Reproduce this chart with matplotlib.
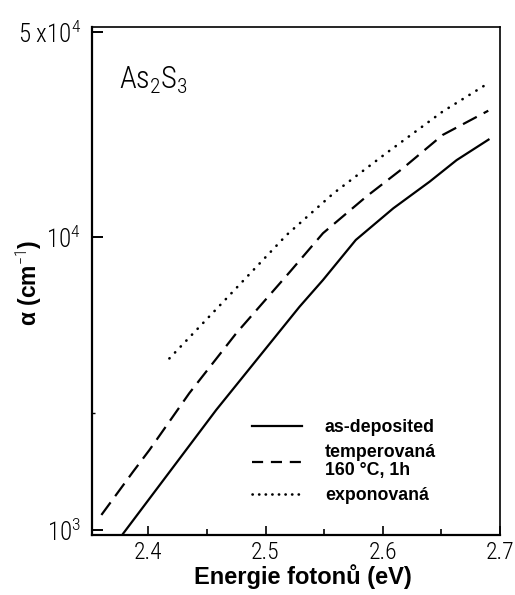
import matplotlib
matplotlib.use("Agg")
import matplotlib.pyplot as plt
from matplotlib.ticker import FixedLocator, NullFormatter
from matplotlib.lines import Line2D

plt.rcParams['mathtext.fontset'] = 'custom'
plt.rcParams['mathtext.rm'] = 'Roboto Condensed:light'
plt.rcParams['mathtext.it'] = 'Roboto Condensed:italic'
plt.rcParams['mathtext.bf'] = 'Liberation Sans:bold'

TICK_FONT = ['Roboto Condensed', 'DejaVu Sans']
BOLD_FONT = ['Liberation Sans', 'DejaVu Sans']

# Absorption coefficient alpha (cm^-1) vs photon energy (eV)
x_as_deposited = [2.378, 2.458, 2.529, 2.549, 2.577, 2.609, 2.640, 2.663, 2.691]
y_as_deposited = [965, 2570, 5780, 7130, 9770, 12530, 15450, 18300, 21600]

x_tempered = [2.360, 2.387, 2.401, 2.435, 2.475, 2.521, 2.549, 2.586, 2.617, 2.651, 2.690]
y_tempered = [1125, 1580, 1875, 2930, 4690, 7620, 10300, 13740, 17140, 22290, 26980]

x_exposed = [2.418, 2.464, 2.518, 2.558, 2.603, 2.651, 2.690]
y_exposed = [3850, 6010, 10160, 14100, 19330, 26790, 33500]

series_labels = ['as-deposited', 'temperovaná\n160 °C, 1h', 'exponovaná']

x_ticks = [2.4, 2.5, 2.6, 2.7]
x_tick_labels = ['2.4', '2.5', '2.6', '2.7']
x_minor_ticks = [2.45, 2.55, 2.65]
y_ticks = [1e3, 1e4, 5e4]
y_tick_labels = ['10$^3$', '10$^4$', '5 x10$^4$']
y_minor_ticks = [2.5e3]

fig = plt.figure(figsize=(5.15, 5.95), dpi=100)
ax = fig.add_axes([92 / 515, 60 / 595, 408 / 515, 508 / 595])

lw = 1.6
ax.plot(x_as_deposited, y_as_deposited, color='black', lw=lw, solid_capstyle='butt')
ax.plot(x_tempered, y_tempered, color='black', lw=lw, linestyle=(0, (7, 3.5)),
        dash_capstyle='butt')
ax.plot(x_exposed, y_exposed, color='black', lw=1.9, linestyle=(0, (0.1, 3.0)),
        dash_capstyle='round')

ax.set_yscale('log')
ax.set_xlim(2.352, 2.7)
ax.set_ylim(961, 52100)

ax.xaxis.set_major_locator(FixedLocator(x_ticks))
ax.set_xticklabels(x_tick_labels, fontfamily=TICK_FONT, fontweight='light', fontsize=17)
ax.xaxis.set_minor_locator(FixedLocator(x_minor_ticks))
ax.yaxis.set_major_locator(FixedLocator(y_ticks))
ax.set_yticklabels(y_tick_labels, fontfamily=TICK_FONT, fontweight='light', fontsize=18)
ax.yaxis.set_minor_locator(FixedLocator(y_minor_ticks))
ax.yaxis.set_minor_formatter(NullFormatter())

ax.tick_params(axis='x', which='major', direction='in', length=6.5, width=1.2, pad=4)
ax.tick_params(axis='x', which='minor', direction='in', length=4, width=1.2)
ax.tick_params(axis='y', which='major', direction='in', length=8, width=1.4, pad=8)
ax.tick_params(axis='y', which='minor', direction='in', length=2.5, width=1.0)

for side, sp in ax.spines.items():
    sp.set_linewidth(1.2)
ax.spines['left'].set_linewidth(1.6)
ax.spines['bottom'].set_linewidth(1.6)

ax.set_xlabel('Energie fotonů (eV)', fontfamily=BOLD_FONT, fontweight='bold', fontsize=17)
ax.xaxis.set_label_coords(0.517, -0.058)
ax.set_ylabel(r'α (cm$^{-1}$)', fontfamily=BOLD_FONT, fontweight='bold', fontsize=16.5)
ax.yaxis.set_label_coords(-0.118, 0.496)

ax.text(0.066, 0.878, r'As$_2$S$_3$', transform=ax.transAxes, fontfamily=TICK_FONT,
        fontweight='light', fontsize=22, va='baseline', ha='left')

handles = [
    Line2D([], [], color='black', lw=lw),
    Line2D([], [], color='black', lw=lw, linestyle=(0, (5, 3.5))),
    Line2D([], [], color='black', lw=1.9, linestyle=(0, (0.1, 2.4)), dash_capstyle='round'),
]
leg = ax.legend(handles, series_labels, loc='upper left', bbox_to_anchor=(0.392, 0.228),
                frameon=False, borderpad=0, borderaxespad=0, handlelength=2.8,
                handletextpad=1.3, labelspacing=0.45,
                prop={'family': BOLD_FONT, 'weight': 'bold', 'size': 12.8})
for t in leg.get_texts():
    t.set_linespacing(1.05)

fig.savefig('out.png', dpi=100)
